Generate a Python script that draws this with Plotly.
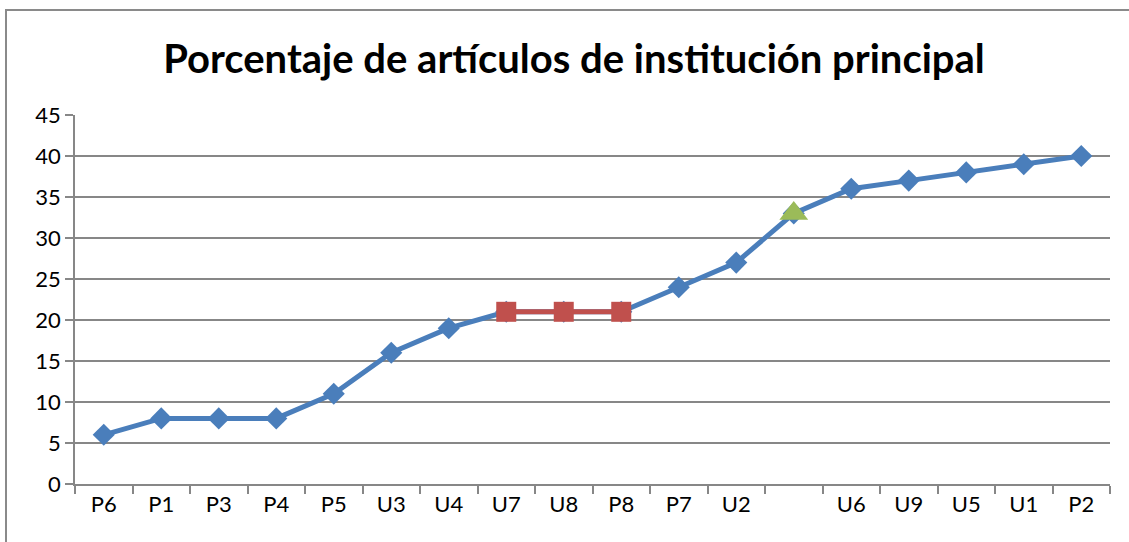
import plotly.graph_objects as go

categories = ["P6", "P1", "P3", "P4", "P5", "U3", "U4", "U7", "U8", "P8",
              "P7", "U2", " ", "U6", "U9", "U5", "U1", "P2"]
values = [6, 8, 8, 8, 11, 16, 19, 21, 21, 21, 24, 27, 33, 36, 37, 38, 39, 40]
red_categories = ["U7", "U8", "P8"]
red_values = [21, 21, 21]
green_categories = [" "]
green_values = [33]
y_ticks = [0, 5, 10, 15, 20, 25, 30, 35, 40, 45]

BLUE = "#4A7EBB"
RED = "#C0504D"
GREEN = "#9BBB59"
GRID = "#878787"
FONT = "Lato, 'Open Sans', sans-serif"

fig = go.Figure()
fig.add_trace(go.Scatter(
    x=categories, y=values, mode="lines+markers",
    line=dict(color=BLUE, width=5),
    marker=dict(symbol="diamond", size=17, color=BLUE),
    showlegend=False, hoverinfo="x+y"))
fig.add_trace(go.Scatter(
    x=red_categories, y=red_values, mode="lines+markers",
    line=dict(color=RED, width=5),
    marker=dict(symbol="square", size=20, color=RED),
    showlegend=False, hoverinfo="x+y"))
fig.add_trace(go.Scatter(
    x=green_categories, y=green_values, mode="markers",
    marker=dict(symbol="triangle-up", size=25, color=GREEN),
    showlegend=False, hoverinfo="y"))

L, R, T, B = 75, 19, 115, 58
W, H = 1129, 542
pw, ph = W - L - R, H - T - B

fig.update_layout(
    width=W, height=H,
    margin=dict(l=L, r=R, t=T, b=B),
    paper_bgcolor="white", plot_bgcolor="white",
    font=dict(family=FONT, color="black", size=22),
    title=dict(text="<b>Porcentaje de artículos de institución principal</b>",
               x=(163 + 985) / 2 / W, xanchor="center",
               y=1 - 59 / H, yanchor="middle",
               font=dict(size=40, family=FONT, color="black")),
    xaxis=dict(type="category", categoryorder="array", categoryarray=categories,
               tickson="boundaries", ticks="outside", ticklen=8, tickcolor=GRID,
               tickwidth=1.5, showline=True, linecolor=GRID, linewidth=1.5,
               showgrid=False, range=[-0.5, len(categories) - 0.5],
               tickfont=dict(size=22), fixedrange=True),
    yaxis=dict(range=[0, 45], tickvals=y_ticks, ticks="outside", ticklen=8,
               tickcolor=GRID, tickwidth=1.5, showline=True, linecolor=GRID,
               linewidth=1.5, showgrid=True, gridcolor=GRID, gridwidth=1.5,
               zeroline=False, tickfont=dict(size=22), fixedrange=True),
    shapes=[dict(type="rect", xref="paper", yref="paper",
                 x0=(6 - L) / pw, x1=(W + 20 - L) / pw,
                 y0=-(H + 20 - (T + ph)) / ph, y1=1 + (T - 10) / ph,
                 line=dict(color="#8A8A8A", width=2), fillcolor="rgba(0,0,0,0)",
                 layer="below")],
)

fig.write_html("out.html", config={"displayModeBar": False},
               post_script="document.body.style.margin='0';document.body.style.padding='0';")
